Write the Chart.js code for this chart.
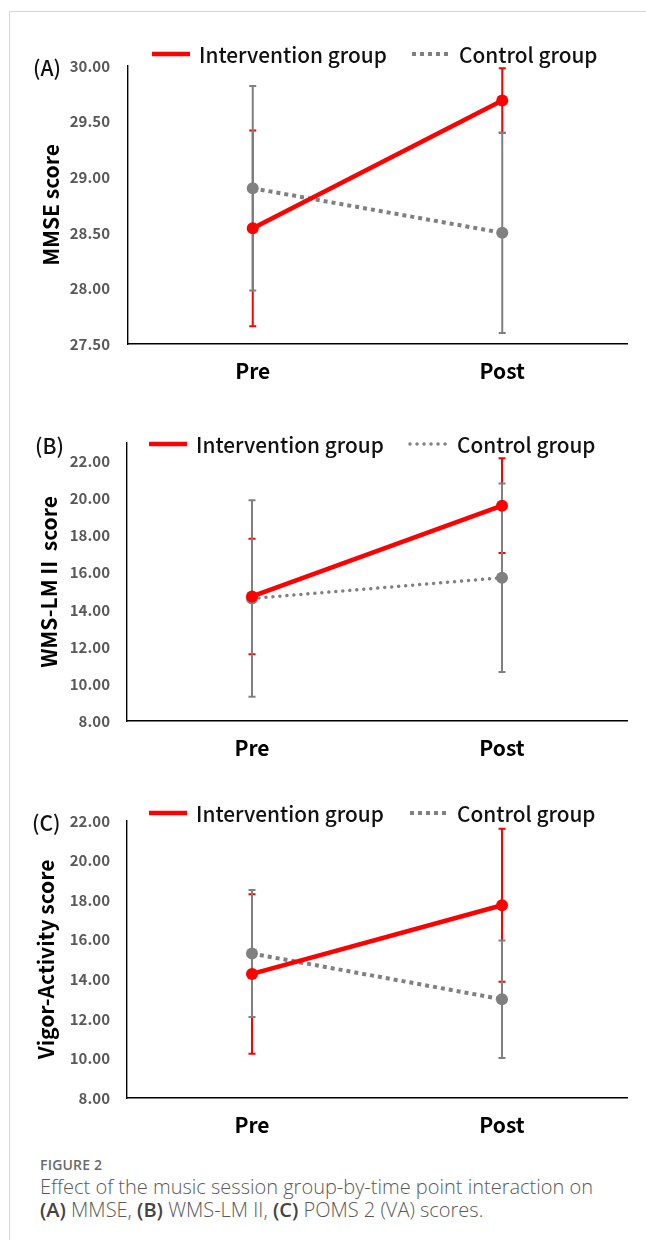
<!DOCTYPE html>
<html>
<head>
<meta charset="utf-8">
<script src="https://cdn.jsdelivr.net/npm/chart.js@4.4.1/dist/chart.umd.min.js"></script>
<style>
  html, body { margin: 0; padding: 0; background: #fff; }
  #page { position: relative; width: 646px; height: 1240px; overflow: hidden; }
  #frame { position: absolute; left: 9px; top: 11px; width: 700px; height: 1300px;
           border-left: 1.5px solid #d6d6d6; border-top: 1.5px solid #d6d6d6; }
  canvas { position: absolute; left: 0; }
  #caption { position: absolute; left: 40px; top: 1155px; font-family: 'Open Sans', sans-serif; color: #5a5a5a; }
  #caption .fig { font-size: 14px; font-weight: 600; line-height: 20px; color: #6a6a6a; letter-spacing: 0.2px; }
  #caption .txt { font-size: 20px; font-weight: 300; line-height: 23px; }
  #caption b { font-weight: 600; color: #444; }
</style>
</head>
<body>
<div id="page">
  <div id="frame"></div>
  <canvas id="panelA" width="646" height="380" style="top:20px"></canvas>
  <canvas id="panelB" width="646" height="380" style="top:400px"></canvas>
  <canvas id="panelC" width="646" height="370" style="top:780px"></canvas>
  <div id="caption">
    <div class="fig">FIGURE 2</div>
    <div class="txt">Effect of the music session group-by-time point interaction on<br><b>(A)</b> MMSE, <b>(B)</b> WMS-LM II, <b>(C)</b> POMS 2 (VA) scores.</div>
  </div>
</div>
<script>
const timepoints = ['Pre', 'Post'];
const groupNames = ['Intervention group', 'Control group'];

// (A) MMSE
const mmseInterventionMean = [28.54, 29.69];
const mmseInterventionSd = [0.88, 0.29];
const mmseControlMean = [28.90, 28.50];
const mmseControlSd = [0.92, 0.90];
const mmseTicks = [27.5, 28.0, 28.5, 29.0, 29.5, 30.0];

// (B) WMS-LM II
const wmsInterventionMean = [14.72, 19.62];
const wmsInterventionSd = [3.12, 2.56];
const wmsControlMean = [14.61, 15.73];
const wmsControlSd = [5.30, 5.08];
const wmsTicks = [8, 10, 12, 14, 16, 18, 20, 22];

// (C) POMS 2 Vigor-Activity
const vaInterventionMean = [14.27, 17.74];
const vaInterventionSd = [4.03, 3.87];
const vaControlMean = [15.30, 12.99];
const vaControlSd = [3.21, 2.97];
const vaTicks = [8, 10, 12, 14, 16, 18, 20, 22];

const RED = '#ff0000';
const GREY = '#808080';
const JP = "'Noto Sans CJK JP', 'Noto Sans', sans-serif";
const W = 646;

// mean ± SD whiskers, drawn under the lines
const errorBars = {
  id: 'errorBars',
  beforeDatasetsDraw(chart) {
    const { ctx, scales: { x, y } } = chart;
    chart.data.datasets.forEach(ds => {
      ctx.save();
      ctx.strokeStyle = ds.borderColor;
      ctx.lineWidth = 2;
      ds.data.forEach((m, i) => {
        const px = x.getPixelForValue(i);
        const top = y.getPixelForValue(m + ds.sd[i]);
        const bot = y.getPixelForValue(m - ds.sd[i]);
        ctx.beginPath();
        ctx.moveTo(px, top); ctx.lineTo(px, bot);
        ctx.moveTo(px - 3.5, top); ctx.lineTo(px + 3.5, top);
        ctx.moveTo(px - 3.5, bot); ctx.lineTo(px + 3.5, bot);
        ctx.stroke();
      });
      ctx.restore();
    });
  },
};

// panel letter and the inline legend above the plot
const panelDecor = {
  id: 'panelDecor',
  afterDraw(chart, args, opts) {
    const { ctx } = chart;
    ctx.save();
    ctx.fillStyle = '#111';
    ctx.textBaseline = 'middle';
    ctx.font = `500 21px ${JP}`;
    ctx.fillText(opts.letter, opts.letterX, opts.letterY);
    ctx.font = `500 20.8px ${JP}`;
    chart.data.datasets.forEach((ds, i) => {
      const lx = opts.legendX[i];
      ctx.save();
      ctx.strokeStyle = ds.borderColor;
      ctx.lineWidth = ds.borderWidth;
      ctx.lineCap = ds.borderCapStyle || 'butt';
      ctx.setLineDash(ds.borderDash || []);
      ctx.beginPath();
      ctx.moveTo(lx, opts.legendY);
      ctx.lineTo(lx + 38, opts.legendY);
      ctx.stroke();
      ctx.restore();
      ctx.fillText(ds.label, lx + 47, opts.legendY + 1);
    });
    ctx.restore();
  },
};

function makePanel(id, p) {
  const canvas = document.getElementById(id);
  const H = canvas.height;
  return new Chart(canvas, {
    type: 'line',
    data: {
      labels: timepoints,
      datasets: [
        { label: groupNames[0], data: p.intMean, sd: p.intSd, borderColor: RED, backgroundColor: RED,
          borderWidth: 4.5, tension: 0, pointRadius: 6, pointBorderWidth: 0, pointBackgroundColor: RED, clip: false },
        { label: groupNames[1], data: p.ctlMean, sd: p.ctlSd, borderColor: GREY, backgroundColor: GREY,
          borderWidth: p.dotWidth, borderDash: p.dash, borderCapStyle: p.cap, tension: 0,
          pointRadius: 6, pointBorderWidth: 0, pointBackgroundColor: GREY, clip: false },
      ],
    },
    options: {
      responsive: false, animation: false, events: [],
      layout: { padding: { top: p.area.top, right: W - p.area.right, bottom: 0, left: 0 } },
      plugins: {
        legend: { display: false },
        tooltip: { enabled: false },
        panelDecor: p.decor,
      },
      scales: {
        x: {
          offset: true,
          grid: { display: false, drawTicks: false },
          border: { color: '#000', width: 1.6 },
          ticks: { color: '#000', padding: 14, font: { family: JP, size: 21, weight: 'bold' } },
          afterFit: s => { s.height = H - p.area.bottom; },
        },
        y: {
          min: p.min, max: p.max,
          afterBuildTicks: s => { s.ticks = p.ticks.map(v => ({ value: v })); },
          grid: { display: false, drawTicks: false },
          border: { color: '#000', width: 1.4 },
          ticks: { color: '#595959', padding: p.tickPad, font: { family: JP, size: 15, weight: 'bold' }, callback: v => Number(v).toFixed(2) },
          title: { display: true, text: p.title, color: '#000', font: { family: JP, size: 21, weight: 'bold' }, padding: { top: p.titlePad, bottom: 0 } },
          afterFit: s => { s.width = p.area.left; },
        },
      },
    },
    plugins: [errorBars, panelDecor],
  });
}

makePanel('panelA', {
  intMean: mmseInterventionMean, intSd: mmseInterventionSd, ctlMean: mmseControlMean, ctlSd: mmseControlSd,
  ticks: mmseTicks, min: 27.5, max: 30, title: 'MMSE score',
  area: { left: 128, right: 627, top: 46, bottom: 324 }, tickPad: 18, titlePad: 38,
  dotWidth: 4, dash: [4, 4], cap: 'butt',
  decor: { letter: '(A)', letterX: 33, letterY: 48, legendX: [152, 412], legendY: 34 },
});

makePanel('panelB', {
  intMean: wmsInterventionMean, intSd: wmsInterventionSd, ctlMean: wmsControlMean, ctlSd: wmsControlSd,
  ticks: wmsTicks, min: 8, max: 23, title: 'WMS-LM II  score',
  area: { left: 127, right: 627, top: 43, bottom: 321 }, tickPad: 17, titlePad: 36,
  dotWidth: 3.5, dash: [0.01, 7], cap: 'round',
  decor: { letter: '(B)', letterX: 35, letterY: 46, legendX: [149, 410], legendY: 44 },
});

makePanel('panelC', {
  intMean: vaInterventionMean, intSd: vaInterventionSd, ctlMean: vaControlMean, ctlSd: vaControlSd,
  ticks: vaTicks, min: 8, max: 22, title: 'Vigor-Activity score',
  area: { left: 127, right: 627, top: 41, bottom: 318 }, tickPad: 17, titlePad: 33,
  dotWidth: 4, dash: [4, 4], cap: 'butt',
  decor: { letter: '(C)', letterX: 32, letterY: 43, legendX: [149, 410], legendY: 33 },
});
</script>
</body>
</html>
